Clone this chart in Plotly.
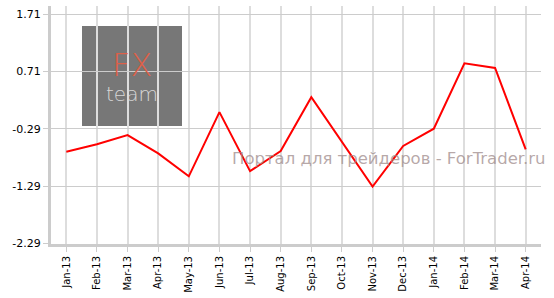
import plotly.graph_objects as go

months = ["Jan-13", "Feb-13", "Mar-13", "Apr-13", "May-13", "Jun-13", "Jul-13", "Aug-13",
          "Sep-13", "Oct-13", "Nov-13", "Dec-13", "Jan-14", "Feb-14", "Mar-14", "Apr-14"]
values = [-0.69, -0.56, -0.40, -0.72, -1.12, 0.00, -1.03, -0.68,
          0.26, -0.53, -1.30, -0.59, -0.29, 0.85, 0.77, -0.65]
y_ticks = [1.71, 0.71, -0.29, -1.29, -2.29]
y_tick_labels = ["1.71", "0.71", "-0.29", "-1.29", "-2.29"]

fig = go.Figure()
fig.add_trace(go.Scatter(x=list(range(len(months))), y=values, mode="lines",
                         line=dict(color="#ff0000", width=2), hoverinfo="skip"))

# logo box
fig.add_shape(type="rect", xref="paper", yref="paper",
              x0=(82 - 51) / 490, x1=(182 - 51) / 490,
              y0=(244 - 126) / 238, y1=(244 - 26) / 238,
              fillcolor="#777777", line=dict(width=0), layer="below")
fig.add_annotation(text="FX", xref="paper", yref="paper",
                   x=(132 - 51) / 490, y=(244 - 65) / 238, showarrow=False,
                   font=dict(family="DejaVu Sans", size=32, color="#dd6048", weight=200),
                   xanchor="center", yanchor="middle")
fig.add_annotation(text="team", xref="paper", yref="paper",
                   x=(132 - 51) / 490, y=(244 - 94) / 238, showarrow=False,
                   font=dict(family="DejaVu Sans", size=20, color="#d8d8d8", weight=200),
                   xanchor="center", yanchor="middle")
fig.add_annotation(text="Портал для трейдеров - ForTrader.ru", xref="paper", yref="paper",
                   x=(548 - 51) / 490, y=(244 - 158) / 238, showarrow=False,
                   font=dict(family="DejaVu Sans", size=16.5, color="rgba(160,140,140,0.75)"),
                   xanchor="right", yanchor="middle")

fig.update_layout(
    width=554, height=298,
    margin=dict(l=51, r=13, t=6, b=54),
    paper_bgcolor="white", plot_bgcolor="white",
    showlegend=False,
    xaxis=dict(range=[-0.5, 15.5], tickmode="array", tickvals=list(range(len(months))),
               ticktext=months, tickangle=-90, showgrid=True, gridcolor="#dddddd", gridwidth=2,
               showline=True, linecolor="#cccccc", linewidth=3, ticks="outside", ticklen=5,
               tickcolor="#cccccc", zeroline=False,
               tickfont=dict(family="DejaVu Sans", size=10, color="#000000")),
    yaxis=dict(range=[-2.30, 1.85], tickmode="array", tickvals=y_ticks, ticktext=y_tick_labels,
               showgrid=True, gridcolor="#cccccc", gridwidth=1, zeroline=False,
               showline=True, linecolor="#cccccc", linewidth=3, ticks="outside", ticklen=5,
               tickcolor="#cccccc",
               tickfont=dict(family="DejaVu Sans", size=11, color="#000000")),
)

fig.write_html("out.html")
